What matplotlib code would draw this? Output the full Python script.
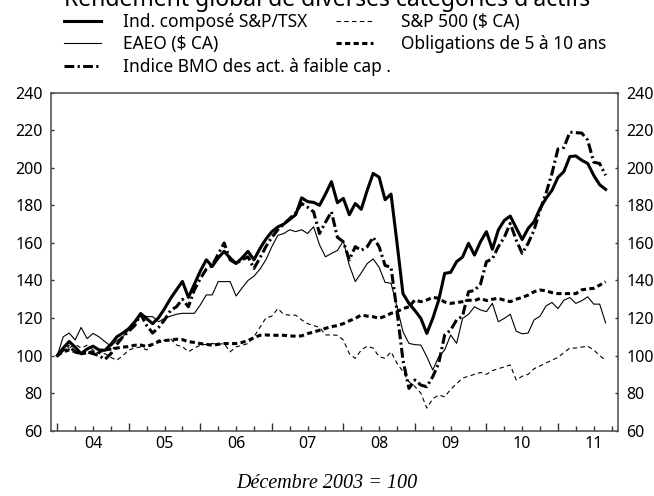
import numpy as np
import matplotlib
matplotlib.use("Agg")
import matplotlib.pyplot as plt
from matplotlib.ticker import FixedLocator, FuncFormatter

# monthly index: 0 = Dec 2003 (=100), last point Aug 2011
years = ['04', '05', '06', '07', '08', '09', '10', '11']

tsx = [100, 104, 107.5, 104.5, 101, 103.5, 105, 103, 102.8, 106, 110, 112,
       114.4, 118, 122.4, 119.7, 117, 120.2, 125, 130.4, 135, 139.5, 131, 138,
       145, 151, 147.5, 152, 155.5, 152, 149, 152, 155.5, 151, 157, 162,
       166, 168.5, 170, 172.5, 175, 184, 182, 181.6, 180, 186, 192.6, 181.4,
       183.7, 175, 181, 177.9, 188, 197, 195, 183, 186, 160, 133, 127.8,
       124, 119.8, 111.8, 119.8, 129.6, 143.8, 144.3, 150, 152.5, 159.8, 153.5, 160.6,
       166, 156.6, 166.9, 172, 174.3, 168, 161.8, 167.7, 171.3, 178.4, 183.7, 188,
       194.9, 198, 206, 206.3, 204, 202.3, 196, 191, 188.5]

sp500 = [100, 103, 104, 106, 104, 105.5, 103, 101, 101, 99, 97.5, 100,
         103, 104, 104.6, 103, 106, 108.3, 108, 109, 105.6, 104.8, 102, 104,
         105.5, 106, 106.4, 106, 106.4, 102, 104.6, 105.5, 106.4, 110, 115, 120,
         121, 125, 122, 121.5, 121.5, 119, 117, 116, 115, 111, 111, 110.8,
         108.3, 101, 98.5, 103, 105, 104, 99.4, 98.5, 102, 95.9, 91.5, 86,
         83.5, 80, 72, 77, 79, 78, 82, 85, 88, 89, 90, 91,
         90, 92, 93, 94, 95, 87, 89, 90, 93, 94.5, 96, 97.6,
         99, 101.6, 104, 104, 104.5, 105, 103, 100, 97.5]

eaeo = [100, 110, 112, 108.3, 115, 109, 111.8, 110, 107.4, 105, 108, 110,
        113.7, 117, 121.6, 120.8, 120.7, 118, 119.8, 121, 122, 122.5, 122.5, 122.5,
        127, 132.3, 132.3, 139.4, 139.4, 139.4, 131.7, 136, 140, 142.3, 146, 151,
        158, 164, 165, 167, 166, 167, 165, 168.6, 159, 152.6, 154.4, 156,
        161, 148, 139.4, 144, 149, 151.5, 147, 139, 138.5, 126, 112.7, 106.5,
        105.8, 105.6, 99.4, 92.3, 99.4, 103, 111, 106.5, 119.8, 122, 126, 124.3,
        123.4, 127.8, 118, 119.8, 122, 113, 111.6, 112, 119, 121, 126.4, 128.3,
        125, 129.5, 130.9, 127.8, 129.2, 131.3, 127.4, 127.4, 117.4]

oblig = [100, 102, 103, 102, 101, 101.5, 102, 102, 103, 103.5, 104, 104.5,
         104.8, 105.5, 105.6, 104.8, 106, 107.4, 108, 108.3, 108.7, 108.5, 107.4, 107,
         106.4, 106, 105.5, 106, 106.4, 106.4, 106.4, 107, 108, 109.5, 110.8, 111,
         110.8, 110.8, 110.8, 110.5, 110.3, 110.5, 111.7, 112.5, 113.5, 114.5, 115.4, 116,
         117, 118.5, 119.8, 121.6, 121, 120.7, 119.8, 121, 122.5, 123.4, 125, 126,
         129.6, 128.7, 129.6, 131, 130.5, 128.5, 127.8, 128.2, 128.7, 129.5, 129.3, 130.5,
         129.3, 130, 130.5, 129.5, 128.7, 130, 131, 132.2, 134, 134.9, 134.5, 133.5,
         133, 133, 133, 133, 135, 135.5, 135.8, 137.5, 139.3]

bmo = [100, 103, 105, 102, 101, 102, 101, 100, 98, 101, 106, 110,
       113, 116, 122, 116, 112, 115, 119, 124, 126, 130, 126, 135,
       141, 146, 148, 154, 160, 151, 149, 151, 152.6, 146.4, 152, 158,
       163, 167, 170, 173, 176, 181, 179, 176.6, 165, 171, 176.6, 163,
       160.6, 151, 158, 156, 158, 163, 158, 148, 147, 123.4, 97.6, 82.5,
       87, 84.3, 83.4, 88.8, 95.9, 111, 113.6, 119, 121, 134, 134.7, 138,
       150, 151.5, 158, 163, 170.4, 161.5, 154.4, 159.8, 166.9, 177.5, 186.4, 197,
       210, 210.8, 219, 218.7, 218.5, 214.7, 203, 202.3, 196]

plt.rcParams['font.family'] = ['Noto Sans', 'DejaVu Sans']

fig = plt.figure(figsize=(6.54, 4.96), dpi=100)
ax = fig.add_axes([0.078, 0.1317, 0.8667, 0.6814])

xs = np.arange(len(tsx))
l1, = ax.plot(xs, tsx, color='black', lw=2.2, label='Ind. composé S&P/TSX')
l2, = ax.plot(xs, sp500, color='black', lw=0.8, dashes=(4, 3), label='S&P 500 ($ CA)')
l3, = ax.plot(xs, eaeo, color='black', lw=0.8, label='EAEO ($ CA)')
l4, = ax.plot(xs, oblig, color='black', lw=2.2, dashes=(1.7, 1.1),
              label='Obligations de 5 à 10 ans')
l5, = ax.plot(xs, bmo, color='black', lw=2.2, dashes=(3.2, 1.1, 0.7, 1.1),
              label='Indice BMO des act. à faible cap .')

ax.set_xlim(-1.05, 94.05)
ax.set_ylim(60, 240)
ax.set_yticks(np.arange(60, 241, 20))

ax.xaxis.set_major_locator(FixedLocator(np.arange(0, 95, 12)))
ax.xaxis.set_minor_locator(FixedLocator([m for m in range(3, 94, 3) if m % 12]))
ax.xaxis.set_major_formatter(FuncFormatter(lambda v, p: ''))
def year_lab(v, p):
    k = int(round(v))
    if k % 12 == 6 and k // 12 < len(years):
        return years[k // 12]
    return ''
ax.xaxis.set_minor_formatter(FuncFormatter(year_lab))
ax.tick_params(axis='x', which='major', direction='in', length=6, width=1, color='#333333')
ax.tick_params(axis='x', which='minor', direction='in', length=3.5, width=1,
               color='#333333', pad=4, labelsize=11.5)
ax.tick_params(axis='y', direction='in', length=2.5, width=1, color='#333333',
               left=True, right=True, labelleft=True, labelright=True, labelsize=11.5, pad=6)

for s in ax.spines.values():
    s.set_color('#555555')
    s.set_linewidth(1.2)

fs = 12.5
fig.legend(handles=[l1, l3, l5], loc='upper left', bbox_to_anchor=(64 / 654, 1 - 13 / 496),
           frameon=False, fontsize=fs, borderpad=0, borderaxespad=0,
           handlelength=2.15, handletextpad=1.25, labelspacing=0.25)
fig.legend(handles=[l2, l4], loc='upper left', bbox_to_anchor=(336 / 654, 1 - 13 / 496),
           frameon=False, fontsize=fs, borderpad=0, borderaxespad=0,
           handlelength=2.15, handletextpad=1.6, labelspacing=0.25)

fig.text(0.5, 1 - 6 / 496, "Rendement global de diverses catégories d'actifs",
         ha='center', va='baseline', fontsize=16.5, fontweight='bold')
fig.text(0.5, 1 - 483 / 496, 'Décembre 2003 = 100', ha='center', va='center',
         fontsize=14.5, style='italic', family='Liberation Serif')

fig.savefig('out.png', dpi=100)
